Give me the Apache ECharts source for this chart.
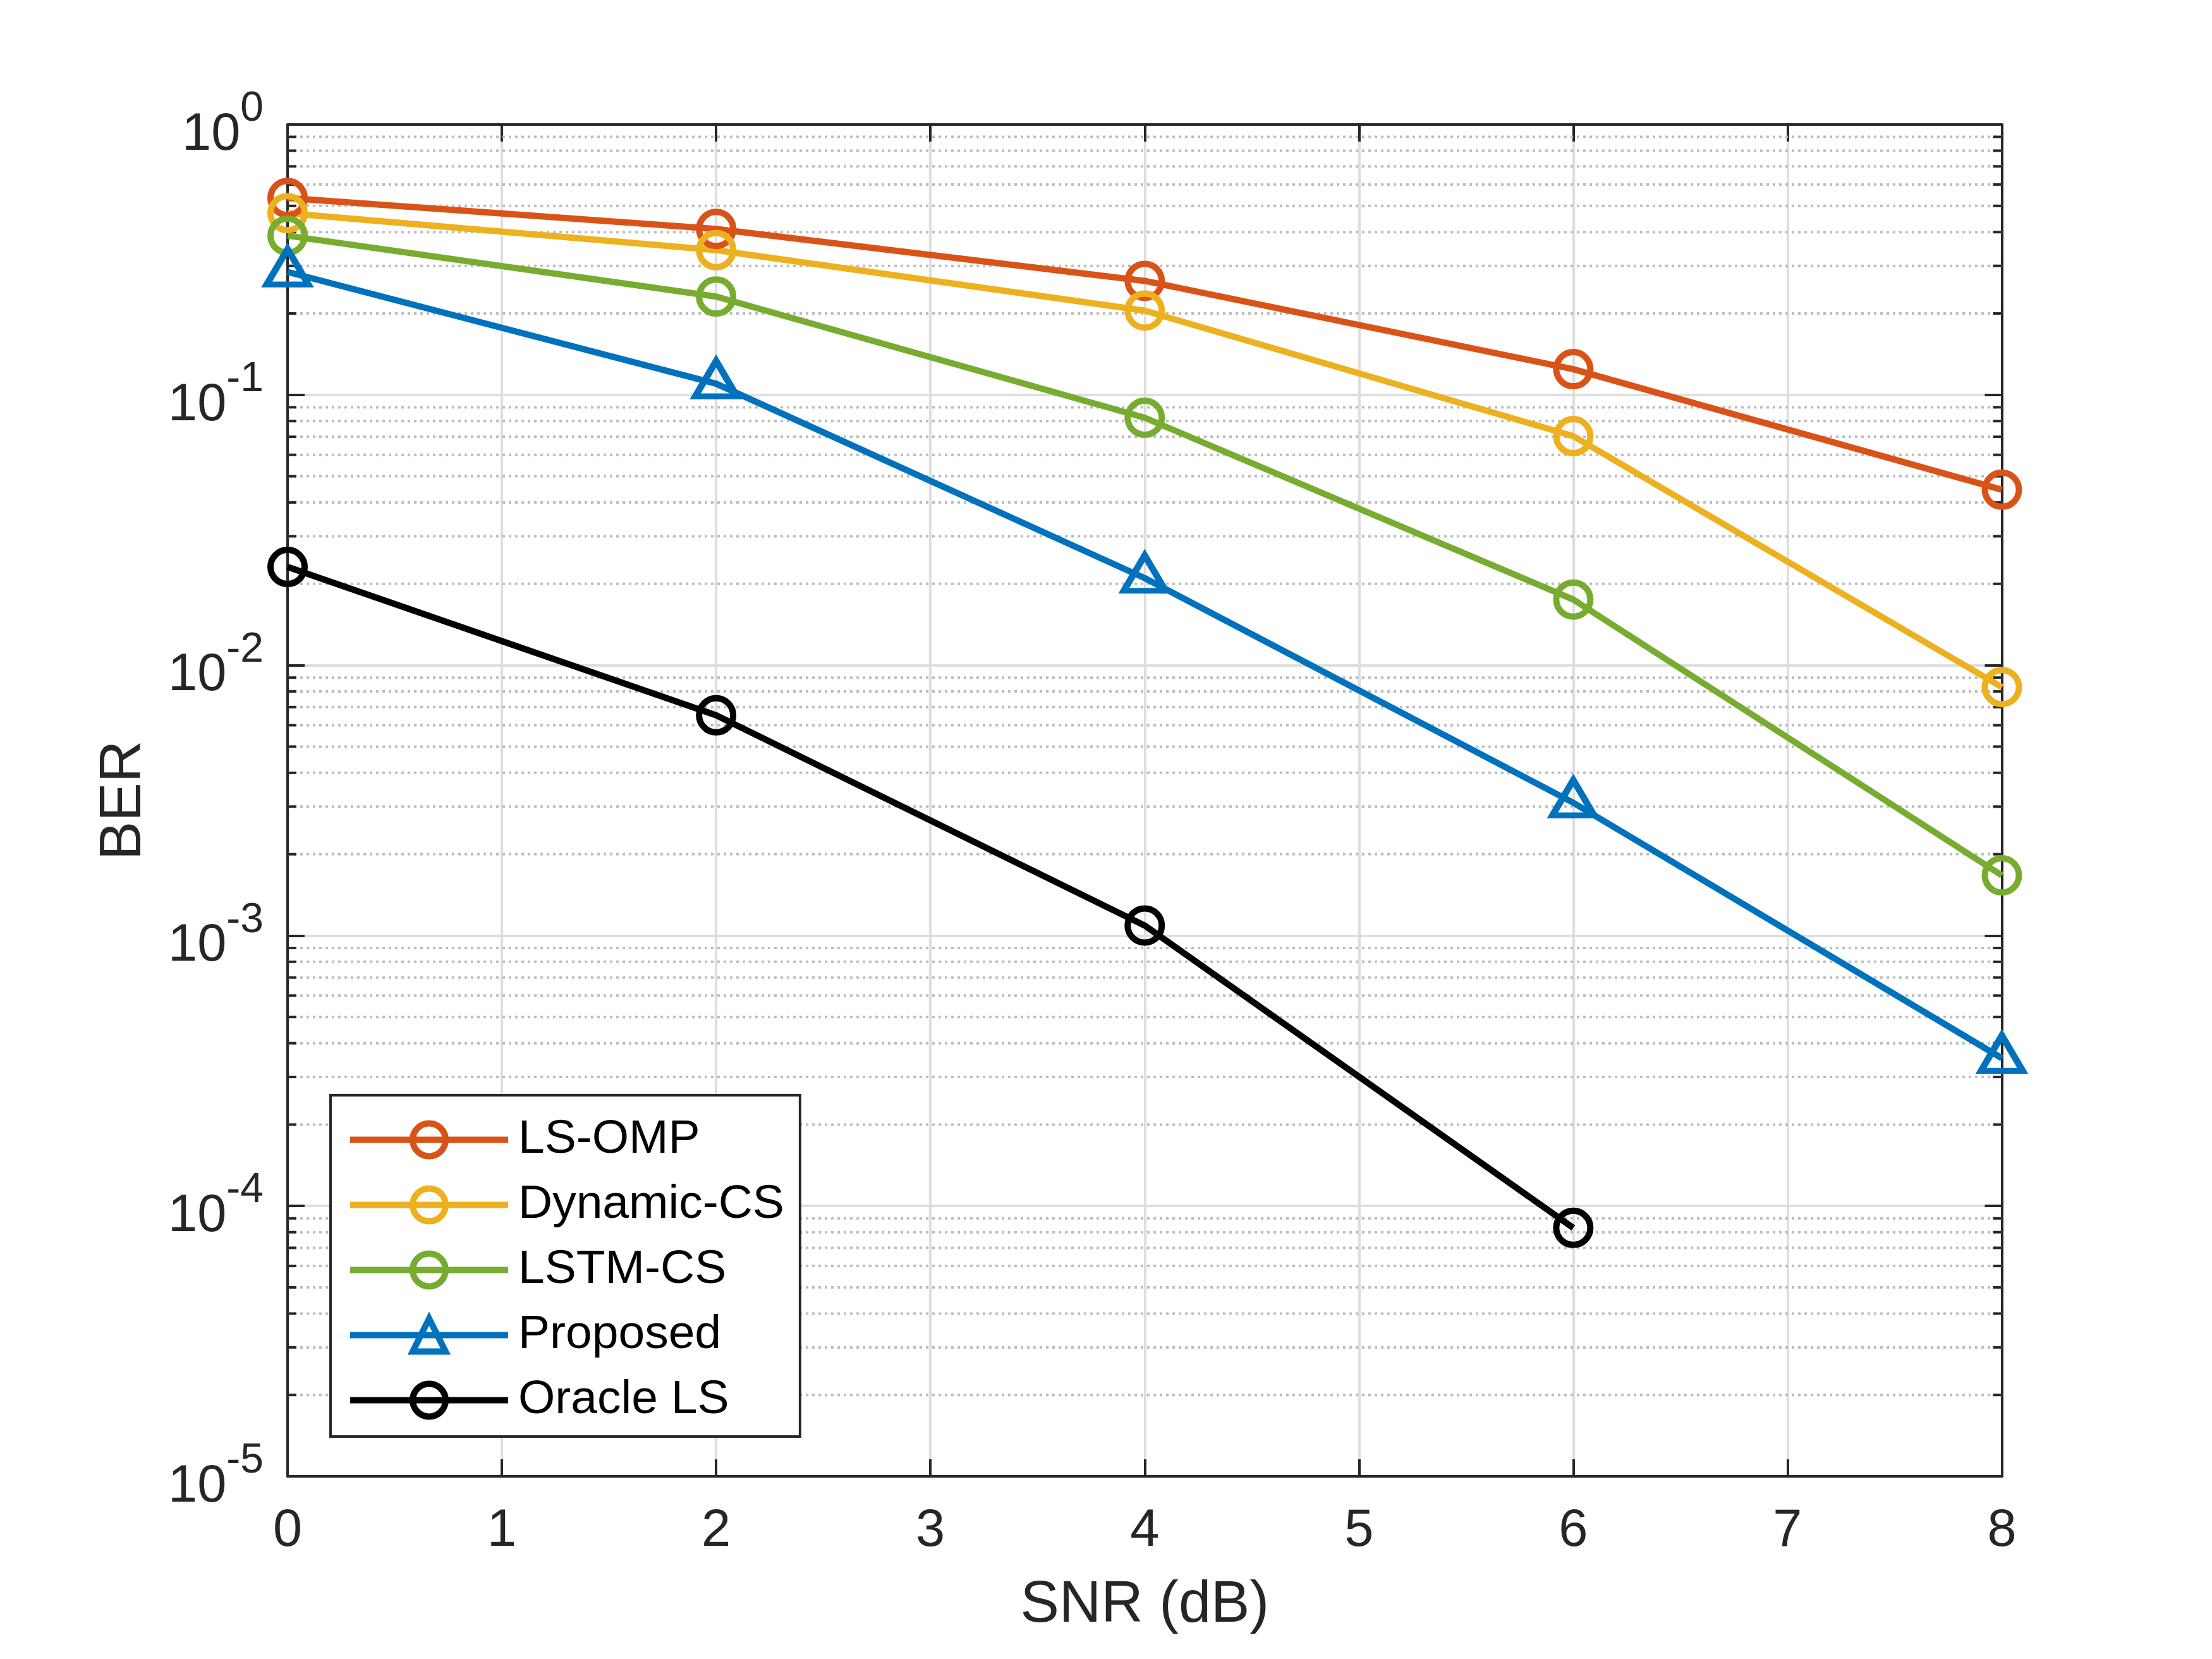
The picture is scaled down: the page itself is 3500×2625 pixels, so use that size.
<!DOCTYPE html>
<html>
<head>
<meta charset="utf-8">
<script src="https://cdn.jsdelivr.net/npm/echarts@6/dist/echarts.min.js"></script>
<style>html,body{margin:0;padding:0;background:#fff}#main{width:3500px;height:2625px}</style>
</head>
<body>
<div id="main"></div>
<script>
// SNR points and BER curves
var snr = [0, 2, 4, 6, 8];
var lsOmp = [0.535, 0.411, 0.264, 0.1245, 0.0446];
var dynamicCs = [0.47, 0.343, 0.205, 0.0704, 0.0083];
var lstmCs = [0.388, 0.231, 0.0823, 0.0175, 0.00167];
var proposed = [0.285, 0.11, 0.021, 0.0031, 0.000352];
var oracleLs = [0.0231, 0.00653, 0.00109, 0.000083];

var names = ['LS-OMP', 'Dynamic-CS', 'LSTM-CS', 'Proposed', 'Oracle LS'];
var colors = ['#D95319', '#EDB120', '#77AC30', '#0072BD', '#000000'];

// axes
var xTicks = [0, 1, 2, 3, 4, 5, 6, 7, 8];
var yDecades = [-5, -4, -3, -2, -1, 0];
var minorMantissa = [2, 3, 4, 5, 6, 7, 8, 9];

var FONT = 'Liberation Sans, Arial, Helvetica, sans-serif';
var AXC = '#262626';

function pairs(ys) {
	return ys.map(function (y, i) { return [snr[i], y]; });
}

// minor log tick values 2..9 x 10^k
var minorVals = [];
for (var d = 0; d < yDecades.length - 1; d++) {
	for (var m = 0; m < minorMantissa.length; m++) {
		minorVals.push(minorMantissa[m] * Math.pow(10, yDecades[d]));
	}
}

var xMin = xTicks[0], xMax = xTicks[xTicks.length - 1];
var yMin = Math.pow(10, yDecades[0]), yMax = Math.pow(10, yDecades[yDecades.length - 1]);

function lineSeries(idx, ys, symbol) {
	return {
		name: names[idx],
		type: 'line',
		data: pairs(ys),
		z: 3,
		clip: false,
		symbol: symbol || 'circle',
		symbolSize: symbol === 'triangle' ? [66, 56] : 54,
		symbolOffset: symbol === 'triangle' ? [0, -8] : [0, 0],
		lineStyle: { color: colors[idx], width: 10 },
		itemStyle: { color: 'rgba(0,0,0,0)', borderColor: colors[idx], borderWidth: 10 },
		emphasis: { disabled: true }
	};
}

function renderMinor(params, api) {
	var v = api.value(1);
	var p0 = api.coord([xMin, v]);
	var p1 = api.coord([xMax, v]);
	var y = p0[1];
	return {
		type: 'group',
		children: [
			{ type: 'line', shape: { x1: p0[0], y1: y, x2: p1[0], y2: y }, style: { stroke: '#bdbdbd', lineWidth: 4, lineDash: [4, 6] } },
			{ type: 'line', shape: { x1: p0[0], y1: y, x2: p0[0] + 14, y2: y }, style: { stroke: AXC, lineWidth: 4 } },
			{ type: 'line', shape: { x1: p1[0] - 14, y1: y, x2: p1[0], y2: y }, style: { stroke: AXC, lineWidth: 4 } }
		]
	};
}

var axisLineCfg = { show: true, onZero: false, lineStyle: { color: AXC, width: 4 } };
var tickCfg = { show: true, inside: true, length: 27, lineStyle: { color: AXC, width: 4 } };

var dom = document.getElementById('main');
var myChart = echarts.init(dom);
var option = {
	animation: false,
	backgroundColor: '#fff',
	color: colors,
	textStyle: { fontFamily: FONT },
	grid: { left: 455, right: 332.5, top: 197, bottom: 289 },
	legend: {
		orient: 'vertical',
		left: 523,
		top: 1733,
		padding: [33, 25, 20, 26],
		itemWidth: 250,
		itemHeight: 65,
		itemGap: 28,
		selectedMode: false,
		backgroundColor: '#fff',
		borderColor: AXC,
		borderWidth: 4,
		borderRadius: 0,
		lineStyle: { width: 10 },
		itemStyle: { borderWidth: 10 },
		textStyle: { fontFamily: FONT, fontSize: 75, color: '#000', padding: [0, 0, 0, 11] },
		data: names
	},
	xAxis: [{
		type: 'value',
		position: 'bottom',
		min: xMin, max: xMax, interval: 1,
		axisLine: axisLineCfg,
		axisTick: tickCfg,
		axisLabel: { fontFamily: FONT, fontSize: 83, color: AXC, margin: 46 },
		splitLine: { show: true, lineStyle: { color: '#dedede', width: 4 } },
		name: 'SNR (dB)',
		nameLocation: 'middle',
		nameGap: 159,
		nameTextStyle: { fontFamily: FONT, fontSize: 92, color: AXC }
	}, {
		type: 'value',
		position: 'top',
		min: xMin, max: xMax, interval: 1,
		axisLine: axisLineCfg,
		axisTick: tickCfg,
		axisLabel: { show: false },
		splitLine: { show: false }
	}],
	yAxis: [{
		type: 'log',
		logBase: 10,
		position: 'left',
		min: yMin, max: yMax,
		splitNumber: 5,
		axisLine: axisLineCfg,
		axisTick: tickCfg,
		axisLabel: {
			margin: 38,
			formatter: function (v) {
				var e = Math.round(Math.log(v) / Math.LN10);
				return '{b|10}{s|' + e + '}';
			},
			rich: {
				b: { fontFamily: FONT, fontSize: 83, color: AXC, padding: [34, 0, 0, 0] },
				s: { fontFamily: FONT, fontSize: 66, color: AXC, padding: [0, 0, 48, 0] }
			}
		},
		splitLine: { show: true, lineStyle: { color: '#dedede', width: 4 } },
		name: 'BER',
		nameLocation: 'middle',
		nameGap: 212,
		nameTextStyle: { fontFamily: FONT, fontSize: 92, color: AXC }
	}, {
		type: 'log',
		logBase: 10,
		position: 'right',
		min: yMin, max: yMax,
		splitNumber: 5,
		axisLine: axisLineCfg,
		axisTick: tickCfg,
		axisLabel: { show: false },
		splitLine: { show: false }
	}],
	series: [
		{
			type: 'custom',
			name: 'minor',
			z: 1,
			silent: true,
			renderItem: renderMinor,
			encode: { x: 0, y: 1 },
			data: minorVals.map(function (v) { return [xMin, v]; })
		},
		lineSeries(0, lsOmp),
		lineSeries(1, dynamicCs),
		lineSeries(2, lstmCs),
		lineSeries(3, proposed, 'triangle'),
		lineSeries(4, oracleLs)
	]
};
if (option && typeof option === 'object') {
	myChart.setOption(option, true);
}
</script>
</body>
</html>
